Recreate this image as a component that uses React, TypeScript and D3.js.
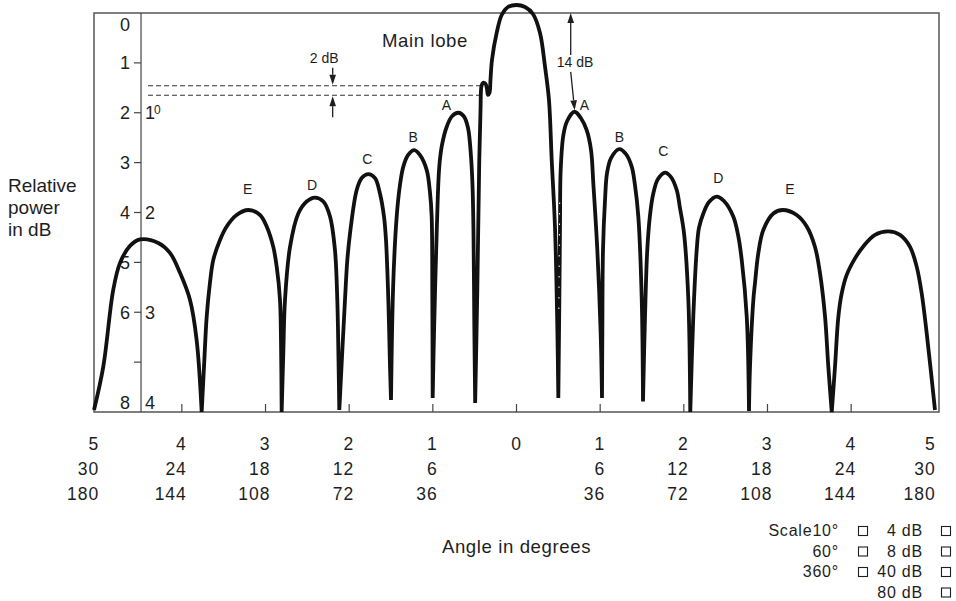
import React, { useEffect } from 'react';
import * as d3 from 'd3';

type Pt = [number, number];

// x: angle in units of the 10° scale (5 = edge), y: relative power (0..8 on the dB scale)
const lobeFLeft: Pt[] = [[-5.05, 7.96], [-4.939, 7.09], [-4.82, 5.55], [-4.739, 5.01], [-4.62, 4.67], [-4.5, 4.54], [-4.282, 4.61], [-4.142, 4.81], [-4.022, 5.21], [-3.903, 5.75], [-3.823, 6.56], [-3.763, 8.0]];
const lobeELeft: Pt[] = [[-3.763, 8.0], [-3.735, 7.09], [-3.703, 6.09], [-3.664, 5.41], [-3.624, 4.95], [-3.544, 4.55], [-3.464, 4.28], [-3.345, 4.05], [-3.206, 3.95], [-3.066, 4.05], [-2.986, 4.28], [-2.907, 4.69], [-2.866, 5.09], [-2.827, 5.75], [-2.815, 6.56], [-2.807, 8.0]];
const lobeDLeft: Pt[] = [[-2.807, 8.0], [-2.787, 6.8], [-2.767, 5.75], [-2.707, 4.69], [-2.608, 4.02], [-2.508, 3.78], [-2.409, 3.70], [-2.309, 3.78], [-2.229, 4.08], [-2.17, 4.75], [-2.142, 5.75], [-2.128, 6.9], [-2.118, 7.96]];
const lobeCLeft: Pt[] = [[-2.118, 7.96], [-2.05, 5.75], [-2.022, 4.95], [-1.99, 4.42], [-1.91, 3.55], [-1.85, 3.31], [-1.771, 3.23], [-1.691, 3.31], [-1.632, 3.62], [-1.584, 4.08], [-1.56, 4.55], [-1.532, 5.75], [-1.512, 7.09], [-1.5, 7.76]];
const lobeBLeft: Pt[] = [[-1.5, 7.76], [-1.473, 5.41], [-1.432, 4.08], [-1.393, 3.45], [-1.353, 3.08], [-1.297, 2.85], [-1.222, 2.75], [-1.153, 2.85], [-1.073, 3.15], [-1.034, 3.6], [-1.014, 4.08], [-1.006, 5.75], [-1.002, 7.72]];
const lobeALeft: Pt[] = [[-1.002, 7.72], [-0.986, 6.42], [-0.954, 4.41], [-0.923, 3.08], [-0.891, 2.65], [-0.834, 2.28], [-0.771, 2.07], [-0.696, 2.0], [-0.63, 2.07], [-0.58, 2.3], [-0.545, 2.85], [-0.525, 3.5], [-0.514, 4.4], [-0.504, 6.3], [-0.494, 7.82]];
const mainLobe: Pt[] = [[-0.494, 7.82], [-0.469, 5.61], [-0.445, 2.95], [-0.43, 1.94], [-0.418, 1.46], [-0.4, 1.4], [-0.371, 1.42], [-0.353, 1.52], [-0.341, 1.64], [-0.323, 1.6], [-0.311, 1.34], [-0.293, 0.94], [-0.237, 0.4], [-0.177, 0.04], [-0.102, -0.12], [0, -0.16], [0.102, -0.12], [0.197, 0.02], [0.281, 0.4], [0.341, 1.08], [0.388, 1.74], [0.421, 2.95], [0.46, 4.29], [0.488, 6.3], [0.5, 7.72]];
const lobeARight: Pt[] = [[0.5, 7.72], [0.512, 5.75], [0.52, 4.29], [0.528, 3.15], [0.56, 2.45], [0.604, 2.17], [0.693, 1.98], [0.771, 2.11], [0.839, 2.35], [0.891, 2.75], [0.918, 3.41], [0.966, 4.75], [1.006, 6.42], [1.022, 7.72]];
const lobeBRight: Pt[] = [[1.022, 7.72], [1.026, 6.42], [1.034, 4.75], [1.058, 3.75], [1.082, 3.21], [1.13, 2.91], [1.229, 2.73], [1.309, 2.83], [1.377, 3.08], [1.416, 3.45], [1.456, 4.08], [1.497, 5.75], [1.512, 7.79]];
const lobeCRight: Pt[] = [[1.512, 7.79], [1.536, 6.09], [1.563, 4.75], [1.596, 4.05], [1.635, 3.62], [1.691, 3.33], [1.775, 3.2], [1.847, 3.29], [1.915, 3.55], [1.954, 3.91], [2.002, 4.41], [2.054, 5.75], [2.077, 8.0]];
const lobeDRight: Pt[] = [[2.077, 8.0], [2.113, 6.09], [2.154, 4.75], [2.181, 4.31], [2.233, 4.02], [2.301, 3.79], [2.393, 3.68], [2.48, 3.77], [2.591, 4.08], [2.648, 4.45], [2.692, 4.95], [2.752, 6.09], [2.779, 7.98]];
const lobeERight: Pt[] = [[2.779, 7.98], [2.791, 7.09], [2.831, 5.75], [2.851, 5.41], [2.89, 4.82], [2.95, 4.35], [3.07, 4.02], [3.182, 3.95], [3.349, 4.05], [3.469, 4.28], [3.568, 4.69], [3.628, 5.22], [3.688, 6.09], [3.727, 7.09], [3.768, 8.0]];
const lobeFRight: Pt[] = [[3.768, 8.0], [3.807, 7.09], [3.847, 6.09], [3.887, 5.62], [3.947, 5.25], [4.046, 4.92], [4.145, 4.68], [4.285, 4.45], [4.444, 4.38], [4.584, 4.45], [4.704, 4.69], [4.784, 5.09], [4.843, 5.62], [4.903, 6.42], [5.002, 7.96]];

const lobes: Pt[][] = [lobeFLeft, lobeELeft, lobeDLeft, lobeCLeft, lobeBLeft, lobeALeft, mainLobe, lobeARight, lobeBRight, lobeCRight, lobeDRight, lobeERight, lobeFRight];

const sideLobeNames = ['A', 'A', 'B', 'B', 'C', 'C', 'D', 'D', 'E', 'E'];
const sideLobeLabelPos: Pt[] = [[-0.837, 1.84], [0.813, 1.84], [-1.234, 2.49], [1.229, 2.49], [-1.783, 2.93], [1.755, 2.77], [-2.444, 3.45], [2.412, 3.31], [-3.213, 3.53], [3.269, 3.53]];

const xTickValues = [-5, -4, -3, -2, -1, 0, 1, 2, 3, 4, 5];
const xRowA = ['5', '4', '3', '2', '1', '0', '1', '2', '3', '4', '5'];
const xRowB = ['30', '24', '18', '12', '6', '', '6', '12', '18', '24', '30'];
const xRowC = ['180', '144', '108', '72', '36', '', '36', '72', '108', '144', '180'];

const yTickValues = [1, 2, 3, 4, 5, 6, 7];
const yLabelText = ['0', '1', '2', '3', '4', '5', '6', '8'];
const yLabelValue = [0.24, 1, 2, 3, 4, 5, 6, 7.8];
const y2LabelText = ['1', '2', '3', '4'];
const y2LabelValue = [2, 4, 6, 7.8];
const innerAxisAt = -4.488;

const dashLevels = [1.46, 1.65];
const legendDeg = ['Scale10°', '60°', '360°'];
const legendDb = ['4 dB', '8 dB', '40 dB', '80 dB'];

const FONT = 'Liberation Sans, Arial, Helvetica, sans-serif';
const INK = '#1e1e1e';

function Arrow({ x1, y1, x2, y2 }: { x1: number; y1: number; x2: number; y2: number }) {
  const a = Math.atan2(y2 - y1, x2 - x1);
  const L = 10, w = 3.3;
  const bx = x2 - L * Math.cos(a), by = y2 - L * Math.sin(a);
  const pts = [
    [x2, y2],
    [bx + w * Math.sin(a), by - w * Math.cos(a)],
    [bx - w * Math.sin(a), by + w * Math.cos(a)],
  ].map(p => p.join(',')).join(' ');
  return (
    <g>
      <line x1={x1} y1={y1} x2={bx} y2={by} stroke={INK} strokeWidth={1.3} />
      <polygon points={pts} fill={INK} />
    </g>
  );
}

export default function App() {
  useEffect(() => { document.body.style.margin = '0'; }, []);
  const x = d3.scaleLinear().domain([-5.05, 5.05]).range([94, 939]);
  const y = d3.scaleLinear().domain([0, 8]).range([13, 412]);
  const line = d3.line<Pt>().x(d => x(d[0])).y(d => y(d[1])).curve(d3.curveCatmullRom.alpha(0.5));
  const pathD = lobes
    .map((l, i) => { const s = line(l) || ''; return i === 0 ? s : s.replace(/^M[^A-Za-z]*/, ''); })
    .join('');
  const [x0, x1] = x.range();
  const [y0, y1] = y.range();
  const ax = x(innerAxisAt);

  const legRows = [536, 556.5, 577, 597.5];

  return (
    <svg width={956} height={601} style={{ position: 'absolute', left: 0, top: 0, background: '#fff' }} fontFamily={FONT}>
      <rect x={0} y={0} width={956} height={601} fill="#fff" />
      {/* frame */}
      <rect x={x0} y={y0} width={x1 - x0} height={y1 - y0} fill="none" stroke="#555" strokeWidth={1.5} />
      {/* inner y axis */}
      <line x1={ax} x2={ax} y1={y0} y2={y1} stroke="#444" strokeWidth={1.2} />
      {yTickValues.map(v => (
        <line key={v} x1={ax - 7} x2={ax} y1={y(v)} y2={y(v)} stroke="#444" strokeWidth={1.2} />
      ))}
      {yLabelText.map((t, i) => (
        <text key={i} x={130} y={y(yLabelValue[i])} dy="0.36em" textAnchor="end" fontSize={18} fill={INK}>{t}</text>
      ))}
      {y2LabelText.map((t, i) => (
        <text key={i} x={ax + 4} y={y(y2LabelValue[i])} dy="0.36em" fontSize={18} fill={INK}>
          {t}
          {i === 0 ? <tspan fontSize={12} dx={-1} dy={-5}>0</tspan> : null}
        </text>
      ))}
      {/* bottom ticks */}
      {xTickValues.filter(v => Math.abs(v) < 5).map(v => (
        <line key={v} x1={x(v)} x2={x(v)} y1={y1 - 8} y2={y1} stroke="#444" strokeWidth={1.2} />
      ))}
      {/* dashed reference lines */}
      {dashLevels.map(v => (
        <line key={v} x1={x(-4.405)} x2={x(-0.43)} y1={y(v)} y2={y(v)} stroke="#333" strokeWidth={1.1} strokeDasharray="5,3" />
      ))}
      {/* pattern */}
      <path d={pathD} fill="none" stroke="#111" strokeWidth={3.8} strokeLinejoin="miter" strokeMiterlimit={4} />
      <line x1={x(0.516)} x2={x(0.506)} y1={y(3.8)} y2={y(5.95)} stroke="#fff" strokeWidth={1} strokeDasharray="1.5,9" />
      {/* side lobe labels */}
      {sideLobeNames.map((n, i) => (
        <text key={i} x={x(sideLobeLabelPos[i][0])} y={y(sideLobeLabelPos[i][1])} dy="0.36em" textAnchor="middle" fontSize={14} fill={INK}>{n}</text>
      ))}
      {/* annotations */}
      <text x={x(-1.094)} y={y(0.675)} textAnchor="middle" fontSize={18.6} letterSpacing={0.6} fill={INK}>Main lobe</text>
      <text x={x(-2.299)} y={y(1.01)} textAnchor="middle" fontSize={14} fill={INK}>2 dB</text>
      <Arrow x1={x(-2.197)} y1={y(1.1)} x2={x(-2.197)} y2={y(1.44)} />
      <Arrow x1={x(-2.197)} y1={y(2.09)} x2={x(-2.197)} y2={y(1.67)} />
      <text x={x(0.699)} y={y(1.08)} textAnchor="middle" fontSize={14} fill={INK}>14 dB</text>
      <Arrow x1={x(0.648)} y1={y(0.84)} x2={x(0.648)} y2={y(0)} />
      <Arrow x1={x(0.648)} y1={y(1.18)} x2={x(0.695)} y2={y(1.95)} />
      {/* y title */}
      <g fontSize={19} fill={INK}>
        <text x={8} y={192}>Relative</text>
        <text x={8} y={214}>power</text>
        <text x={8} y={236}>in dB</text>
      </g>
      {/* x tick label rows */}
      {[xRowA, xRowB, xRowC].map((row, r) => (
        <g key={r} fontSize={17.5} fill={INK} letterSpacing={1}>
          {row.map((t, i) => {
            const v = xTickValues[i];
            const anchor = v === 0 ? 'middle' : 'end';
            const xx = v === 0 ? x(v) : x(v) + (Math.abs(v) === 5 ? 1 : 5);
            return <text key={i} x={xx} y={450 + r * 25} textAnchor={anchor}>{t}</text>;
          })}
        </g>
      ))}
      <text x={x(0)} y={553} textAnchor="middle" fontSize={18.6} letterSpacing={0.6} fill={INK}>Angle in degrees</text>
      {/* scale legend */}
      <g fontSize={16} fill={INK} letterSpacing={0.8}>
        {legendDeg.map((t, i) => (
          <g key={t}>
            <text x={839} y={legRows[i]} textAnchor="end">{t}</text>
            <rect x={858.5} y={legRows[i] - 9.5} width={9} height={9} fill="none" stroke={INK} strokeWidth={1.1} />
          </g>
        ))}
        {legendDb.map((t, i) => (
          <g key={t}>
            <text x={923} y={legRows[i]} textAnchor="end">{t}</text>
            <rect x={941.5} y={legRows[i] - 9.5} width={9} height={9} fill="none" stroke={INK} strokeWidth={1.1} />
          </g>
        ))}
      </g>
    </svg>
  );
}
